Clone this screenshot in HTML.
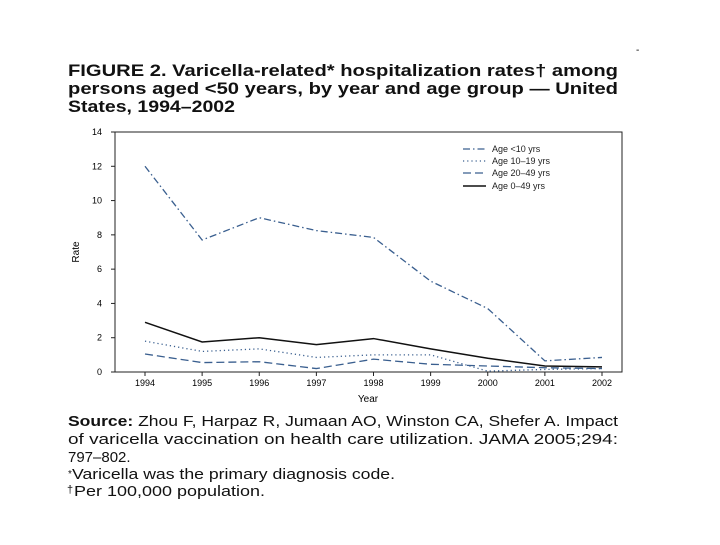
<!DOCTYPE html>
<html><head><meta charset="utf-8"><style>
body{margin:0;background:#fff;width:720px;height:540px;overflow:hidden}
text{font-family:"Liberation Sans",sans-serif}
</style></head><body>
<svg id="svg" width="720" height="540">
<text x="636" y="53" font-size="10">-</text>
<g font-weight="bold" font-size="16.5" fill="#111">
<text x="68" y="76" textLength="550" lengthAdjust="spacingAndGlyphs">FIGURE 2. Varicella-related* hospitalization rates† among</text>
<text x="68" y="94" textLength="550" lengthAdjust="spacingAndGlyphs">persons aged &lt;50 years, by year and age group — United</text>
<text x="68" y="112" textLength="167" lengthAdjust="spacingAndGlyphs">States, 1994–2002</text>
</g>
<rect x="115" y="132" width="507" height="240" fill="none" stroke="#222" stroke-width="1"/>
<g id="axes"></g>
<g id="series"></g>
<g id="legend" font-size="9" fill="#222"></g>
<text x="79" y="252" font-size="10" transform="rotate(-90 79 252)" text-anchor="middle">Rate</text>
<text x="368" y="402" font-size="10" text-anchor="middle">Year</text>
<g font-size="15" fill="#111">
<text x="68" y="426" textLength="550" lengthAdjust="spacingAndGlyphs"><tspan font-weight="bold">Source:</tspan> Zhou F, Harpaz R, Jumaan AO, Winston CA, Shefer A. Impact</text>
<text x="68" y="444" textLength="550" lengthAdjust="spacingAndGlyphs">of varicella vaccination on health care utilization. JAMA 2005;294:</text>
<text x="68" y="462">797–802.</text>
<text x="68" y="477" font-size="10">*</text>
<text x="72" y="479" textLength="323" lengthAdjust="spacingAndGlyphs">Varicella was the primary diagnosis code.</text>
<text x="67" y="493" font-size="11">†</text>
<text x="74" y="496" textLength="191" lengthAdjust="spacingAndGlyphs">Per 100,000 population.</text>
</g>
</svg>
<script>
const years=[1994,1995,1996,1997,1998,1999,2000,2001,2002];
const yTicks=[0,2,4,6,8,10,12,14];
const ageUnder10=[12,7.7,9,8.25,7.85,5.3,3.7,0.65,0.85];
const age10to19=[1.8,1.2,1.35,0.85,1.0,1.0,0.05,0.15,0.2];
const age20to49=[1.05,0.55,0.6,0.2,0.75,0.45,0.35,0.25,0.2];
const age0to49=[2.9,1.75,2.0,1.6,1.95,1.35,0.8,0.35,0.3];
const seriesNames=["Age <10 yrs","Age 10–19 yrs","Age 20–49 yrs","Age 0–49 yrs"];

const NS="http://www.w3.org/2000/svg";
const xs=i=>145+(602-145)*i/(years.length-1);
const ys=v=>372-v*(240/14);
function mk(t,a,p){const e=document.createElementNS(NS,t);for(const k in a)e.setAttribute(k,a[k]);p.appendChild(e);return e;}
const axes=document.getElementById('axes');
yTicks.forEach(t=>{
  const l=mk('line',{x1:111,x2:115,y1:ys(t),y2:ys(t),stroke:'#222'},axes);
  
  
  const tx=mk('text',{x:102,y:ys(t)+3,'font-size':9,'text-anchor':'end'},axes);
  tx.textContent=t;
  
  
});
years.forEach((y,i)=>{
  const l=mk('line',{x1:xs(i),x2:xs(i),y1:372,y2:376,stroke:'#222'},axes);
  
  
  const tx=mk('text',{x:xs(i),y:386,'font-size':9,'text-anchor':'middle'},axes);
  tx.textContent=y;
  
  
});
const styles=[
 {data:ageUnder10,stroke:'#3a5f8f',dash:'7 3 1.5 3',w:1.3},
 {data:age10to19,stroke:'#3a5f8f',dash:'1.2 3',w:1.3},
 {data:age20to49,stroke:'#3a5f8f',dash:'8 4',w:1.3},
 {data:age0to49,stroke:'#111',dash:'',w:1.5}
];
const sg=document.getElementById('series');
styles.forEach((s,k)=>{
  const pts=s.data.map((v,i)=>xs(i)+','+ys(v)).join(' ');
  const p=mk('polyline',{points:pts,fill:'none',stroke:s.stroke,'stroke-width':s.w,'stroke-dasharray':s.dash},sg);
  
  
});
const lg=document.getElementById('legend');
const ly=[149,161,173,186];
styles.forEach((s,k)=>{
  const l=mk('line',{x1:463,x2:486,y1:ly[k],y2:ly[k],stroke:s.stroke,'stroke-width':s.w,'stroke-dasharray':s.dash},lg);
  
  
  const t=mk('text',{x:492,y:ly[k]+3},lg);
  t.textContent=seriesNames[k];
  
  
});
</script>
</body></html>
